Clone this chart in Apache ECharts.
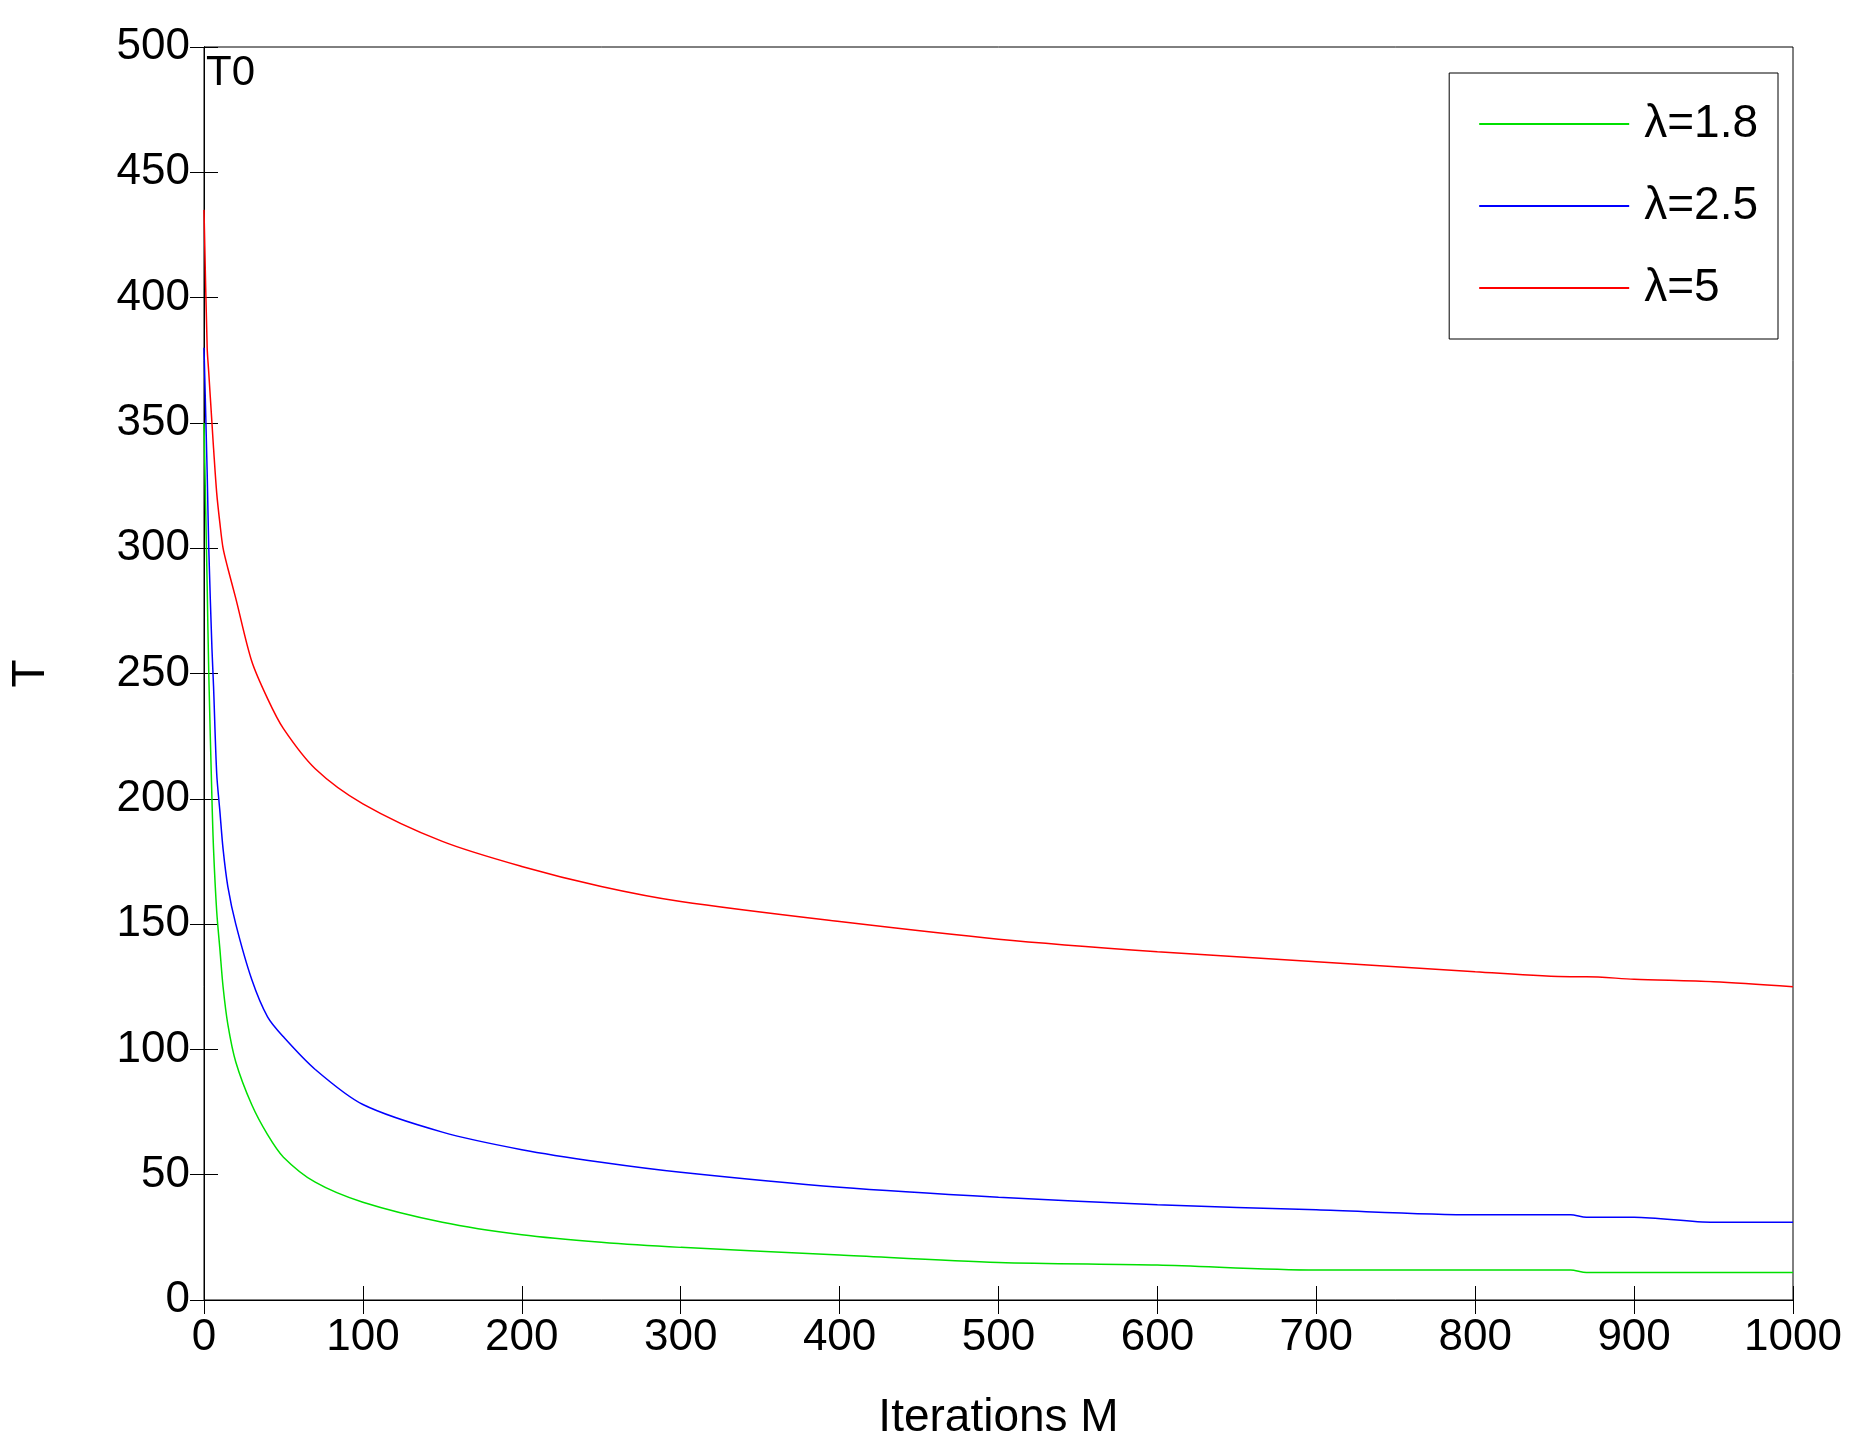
<!DOCTYPE html><html><head><meta charset="utf-8"><script src="https://cdn.jsdelivr.net/npm/echarts@6/dist/echarts.min.js"></script>
<style>body{margin:0;background:#fff}#c{width:1855px;height:1446px}</style></head><body><div id="c"></div><script>
const xs=[0,2,3,5,6,8,10,12,15,20,30,40,50,70,100,150,200,250,300,400,500,600,700,800,860,870,900,950,1000];
const red=[435,380,370,350,340,322,310,300,292,280,255,240,228,212,198,183,173,165,159,151,144,139,135,131,129,129,128,127,125];
const blue=[380,330,300,260,245,210,195,180,165,150,128,113,105,92,78,67,60,55,51,45,41,38,36,34,34,33,33,31,31];
const green=[350,285,250,200,180,155,140,125,110,95,78,66,57,47,39,31,26,23,21,18,15,14,12,12,12,11,11,11,11];
const names=['λ=1.8','λ=2.5','λ=5'];
const pair=a=>xs.map((x,i)=>[x,a[i]]);
const font='Liberation Sans';
const ax={axisLine:{show:true,lineStyle:{color:'#000'}},axisTick:{show:true,inside:true,length:14,lineStyle:{color:'#000'}},splitLine:{show:false}};
const c=echarts.init(document.getElementById('c'));
c.setOption({
grid:{left:190,right:62,top:47,bottom:142,show:true,borderColor:'#000',borderWidth:1},
legend:{right:77,top:73,orient:'vertical',itemWidth:150,itemHeight:2,itemGap:36,padding:[28,20,28,30],borderColor:'#000',borderWidth:1,backgroundColor:'#fff',icon:'rect',textStyle:{fontFamily:font,fontSize:46,color:'#000',padding:[0,0,0,10]},data:names},
xAxis:[{type:'value',min:0,max:1000,interval:100,...ax,name:'Iterations M',nameLocation:'middle',nameGap:95,nameTextStyle:{fontFamily:font,fontSize:46,color:'#000'},axisLabel:{fontFamily:font,fontSize:44,color:'#000',margin:16,formatter:v=>String(v)}},
{type:'value',position:'top',min:0,max:1000,interval:100,...ax,axisLabel:{show:false}}],
yAxis:[{type:'value',min:0,max:500,interval:50,...ax,name:'T',nameLocation:'middle',nameGap:150,nameTextStyle:{fontFamily:font,fontSize:46,color:'#000'},axisLabel:{fontFamily:font,fontSize:44,color:'#000',margin:14}},
{type:'value',position:'right',min:0,max:500,interval:50,...ax,axisLabel:{show:false}}],
graphic:[{type:'text',left:206,top:52,style:{text:'T0',fontFamily:font,fontSize:42,fill:'#000'}}],
series:[
{name:names[0],type:'line',data:pair(green),showSymbol:false,smooth:0.3,lineStyle:{color:'#00e000',width:1.5},itemStyle:{color:'#00e000'}},
{name:names[1],type:'line',data:pair(blue),showSymbol:false,smooth:0.3,lineStyle:{color:'#0000ff',width:1.5},itemStyle:{color:'#0000ff'}},
{name:names[2],type:'line',data:pair(red),showSymbol:false,smooth:0.3,lineStyle:{color:'#ff0000',width:1.5},itemStyle:{color:'#ff0000'}}
],animation:false});
</script></body></html>
